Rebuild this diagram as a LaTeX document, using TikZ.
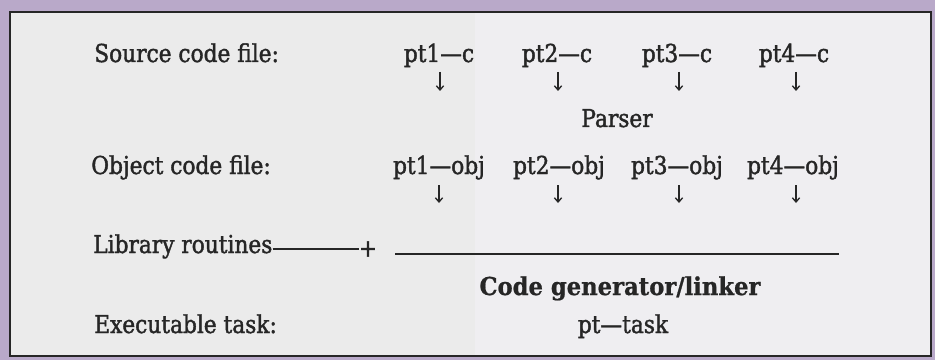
\documentclass[tikz,border=0pt]{standalone}
\usepackage{fontspec}
\setmainfont{DejaVu Serif}[FakeStretch=0.88,FakeBold=1.6]
\newfontfamily\boldfam{DejaVu Serif Bold}[FakeStretch=0.92,FakeBold=0.8]
\usetikzlibrary{arrows.meta}
\definecolor{frame}{HTML}{B9A9C9}
\definecolor{paperl}{HTML}{EBEBEB}
\definecolor{paperr}{HTML}{EFEEF1}
\definecolor{ink}{HTML}{262626}
\begin{document}
\begin{tikzpicture}[x=0.75pt,y=-0.75pt,
  lbl/.style={anchor=base west,inner sep=0pt,text=ink,font=\fontsize{18.5}{21}\selectfont},
  col/.style={anchor=base,inner sep=0pt,text=ink,font=\fontsize{18.5}{21}\selectfont},
  arr/.style={draw=ink,line width=1pt,-{Straight Barb[length=3.2pt,width=5.5pt]}},
  rule/.style={draw=ink,line width=1.9pt}]
\useasboundingbox (0,0) rectangle (935,360);
\fill[frame] (0,0) rectangle (935,360);
\fill[paperl] (10,12) rectangle (475,356);
\fill[paperr] (475,12) rectangle (931,356);
\draw[draw=ink,line width=2.2pt] (10,12) rectangle (931,356);
% row 1
\node[lbl] (src) at (94,62) {Source code file:};
\node[col] (c1) at (439,62) {pt1—c};
\node[col] (c2) at (557,62) {pt2—c};
\node[col] (c3) at (677,62) {pt3—c};
\node[col] (c4) at (794,62) {pt4—c};
\coordinate (e1) at (440,91);
\coordinate (e2) at (558,91);
\coordinate (e3) at (679,91);
\coordinate (e4) at (796,91);
\draw[arr] (e1 |- 0,72) -- (e1);
\draw[arr] (e2 |- 0,72) -- (e2);
\draw[arr] (e3 |- 0,72) -- (e3);
\draw[arr] (e4 |- 0,72) -- (e4);
\node[col] (parser) at (617,127) {Parser};
% row 2
\node[lbl] (obj) at (91,174) {Object code file:};
\node[col] (o1) at (439,174) {pt1—obj};
\node[col] (o2) at (559,174) {pt2—obj};
\node[col] (o3) at (677,174) {pt3—obj};
\node[col] (o4) at (793,174) {pt4—obj};
\coordinate (f1) at (439,203);
\coordinate (f2) at (558,203);
\coordinate (f3) at (679,203);
\coordinate (f4) at (796,203);
\draw[arr] (f1 |- 0,185) -- (f1);
\draw[arr] (f2 |- 0,185) -- (f2);
\draw[arr] (f3 |- 0,185) -- (f3);
\draw[arr] (f4 |- 0,185) -- (f4);
% row 3
\node[lbl] (lib) at (93,253) {Library routines};
\node[anchor=center,inner sep=0pt,text=ink,font=\fontsize{18.5}{21}\selectfont] (plus) at (368,249) {+};
\draw[draw=ink,line width=1pt] (lib.base east |- plus.west) -- (plus.west);
\coordinate (l1) at (395,254);
\coordinate (l2) at (839,254);
\draw[rule] (l1) -- (l2);
\node[col,font=\boldfam\fontsize{18.5}{21}\selectfont] (gen) at (620,295) {Code generator/linker};
% row 4
\node[lbl] (exe) at (94,333) {Executable task:};
\node[col] (task) at (623,333) {pt—task};
\end{tikzpicture}
\end{document}
